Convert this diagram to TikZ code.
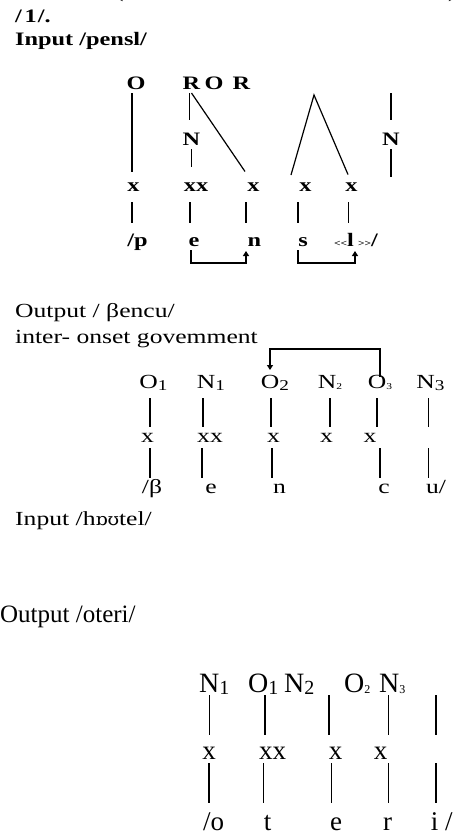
\documentclass[tikz,border=0pt]{standalone}
\usepackage{graphicx}
\usepackage{fontspec}
\setmainfont{Liberation Serif}
\newfontfamily\wideserif[FakeStretch=1.28]{Liberation Serif}
\newfontfamily\plainserif{Liberation Serif}
\newfontfamily\ipaserif[FakeStretch=1.1]{DejaVu Serif}
\usetikzlibrary{arrows.meta}

% widened bold text of the first tree
\newcommand\bw[1]{\scalebox{1.28}[1]{#1}}
% subscripts of the onset/nucleus labels
\newcommand\subL[1]{\raisebox{-2pt}{\fontsize{15}{15}\selectfont #1}}
\newcommand\subS[1]{\raisebox{-1pt}{\fontsize{9}{9}\selectfont #1}}
\newcommand\subM[1]{\raisebox{-2pt}{\fontsize{20}{20}\selectfont #1}}
\newcommand\subT[1]{\raisebox{-1pt}{\fontsize{12}{12}\selectfont #1}}
\newcommand\chev[1]{{\fontsize{9}{9}\selectfont #1}}

\tikzset{
  txt/.style={inner sep=0pt, anchor=base},
  hd/.style={inner sep=0pt, anchor=base west},
  boldfont/.style={font={\fontsize{19}{22}\plainserif\bfseries}},
  regfont/.style={font={\fontsize{20}{23}\wideserif}},
  thrfont/.style={font={\fontsize{27}{30}\plainserif}},
  % first tree: bold, widened
  oneLab/.style={txt, boldfont, text height=12.5pt, text depth=0pt, outer ysep=4pt},
  oneX/.style={txt, boldfont, text height=8.5pt, text depth=0pt, outer ysep=11pt},
  oneSeg/.style={txt, boldfont, text height=8.5pt, text depth=0pt, outer ysep=14.5pt},
  % second tree
  twoLab/.style={txt, regfont, text height=13pt, text depth=0pt, outer ysep=10pt},
  twoX/.style={txt, regfont, text height=9pt, text depth=0pt, outer ysep=6pt},
  % third tree
  thrLab/.style={txt, font={\fontsize{28}{30}\plainserif}, text height=19pt, text depth=0pt, outer ysep=3pt},
  thrX/.style={txt, thrfont, text height=12pt, text depth=0pt, outer ysep=4pt},
  thrSeg/.style={txt, thrfont, text height=12pt, text depth=0pt, outer ysep=15pt},
  branch/.style={line width=1.2pt, line cap=butt},
  govarrow/.style={line width=1.2pt, -{Triangle[length=5pt,width=6pt]}},
}

\begin{document}
\begin{tikzpicture}[x=1pt,y=-1pt]
\useasboundingbox (0,0) rectangle (468,836);

% tail of the preceding line of text
\node[hd, regfont] (parL) at (115,-2.5) {(};
\node[hd, regfont] (parR) at (448,-2.5) {)};

% ---------- /pensl/ ----------
\node[hd, boldfont] (num) at (15,22.7) {\bw{/\kern2pt1\kern1pt/.}};
\node[hd, boldfont] (inA) at (15,45) {\bw{Input /pensl/}};

\node[oneLab] (O)  at (136,89)   {\bw{O}};
\node[oneLab] (Ra) at (191.5,89) {\bw{R}};
\node[oneLab] (Ob) at (214,89)   {\bw{O}};
\node[oneLab] (Rb) at (241.5,89) {\bw{R}};
\coordinate (apex) at (314,95);
\coordinate (legL) at (291,175);
\coordinate (stemTop) at (391,93);
\coordinate (stemBot) at (391,177);
\node[oneLab] (Na) at (191.5,145) {\bw{N}};
\node[oneLab] (Nb) at (391,145)   {\bw{N}};

\node[oneX] (xa) at (133.5,191) {\bw{x}};
\node[oneX] (xb) at (196,191)   {\bw{xx}};
\node[oneX] (xc) at (253.5,191) {\bw{x}};
\node[oneX] (xd) at (305.5,191) {\bw{x}};
\node[oneX] (xe) at (351.5,191) {\bw{x}};

\node[oneSeg] (sp) at (137.5,246) {\bw{/p}};
\node[oneSeg] (se) at (194,246)   {\bw{e}};
\node[oneSeg] (sn) at (254.5,246) {\bw{n}};
\node[oneSeg] (ss) at (303,246)   {\bw{s}};
\node[oneSeg] (sl) at (356,246)   {\bw{\chev{<<}l\,\chev{>>}/}};

\draw[branch] ([xshift=-1.5pt]xa.north |- O.south) -- ([xshift=-1.5pt]xa.north);
\draw[branch] ([xshift=-2pt]Ra.south) -- ([xshift=-2pt,yshift=8.5pt]Na.north);
\draw[branch] (Ra.south) -- ([xshift=-8.5pt]xc.north);
\draw[branch, shorten >=5pt] (Na.south) -- (Na.south |- xb.north);
\draw[branch] (legL) -- (apex) -- ([xshift=-3.5pt,yshift=-3pt]xe.north);
\draw[branch] (stemTop) -- ([yshift=8.5pt]Nb.north);
\draw[branch] (Nb.south) -- (stemBot);

\draw[branch] ([xshift=-1.5pt]xa.south) -- ([xshift=-1.5pt]xa.south |- sp.north);
\draw[branch] ([xshift=-4pt]se.north |- xb.south) -- ([xshift=-4pt]se.north);
\draw[branch] ([xshift=-8.5pt]sn.north |- xc.south) -- ([xshift=-8.5pt]sn.north);
\draw[branch] ([xshift=-5pt]ss.north |- xd.south) -- ([xshift=-5pt]ss.north);
\draw[branch] ([xshift=-3pt]xe.south) -- ([xshift=-3pt]xe.south |- sl.north);

\draw[govarrow] ([xshift=-3pt,yshift=-4pt]se.base) -- ++(0,13) -| ([xshift=-8.5pt,yshift=-5pt]sn.base);
\draw[govarrow] ([xshift=-5pt,yshift=-4pt]ss.base) -- ++(0,13) -| ([xshift=-1pt,yshift=-5pt]sl.base);

% ---------- /βencu/ ----------
\node[hd, regfont] (outA) at (15,317) {Output / βencu/};
\node[hd, regfont] (gov)  at (15,343) {inter- onset govemment};

\node[twoLab] (tO1) at (153.5,388) {O\subL{1}};
\node[twoLab] (tN1) at (211,388)   {N\subL{1}};
\node[twoLab] (tO2) at (275,388)   {O\subL{2}};
\node[twoLab] (tN2) at (330,388)   {N\subS{2}};
\node[twoLab] (tO3) at (380,388)   {O\subS{3}};
\node[twoLab] (tN3) at (430.5,388) {N\subL{3}};

\node[twoX] (tx1) at (147.5,442) {x};
\node[twoX] (tx2) at (210,442)   {xx};
\node[twoX] (tx3) at (273.5,442) {x};
\node[twoX] (tx4) at (326.5,442) {x};
\node[twoX] (tx5) at (370,442)   {x};

\node[twoX] (tb1) at (152,493)   {/β};
\node[twoX] (tb2) at (211,493)   {e};
\node[twoX] (tb3) at (279.5,493) {n};
\node[twoX] (tb4) at (384,493)   {c};
\node[twoX] (tb5) at (436,493)   {u/};

\draw[branch] ([xshift=-3.5pt]tO1.south) -- ([xshift=-3.5pt]tO1.south |- tx1.north);
\draw[branch] ([xshift=-8pt]tN1.south) -- ([xshift=-8pt]tN1.south |- tx2.north);
\draw[branch] ([xshift=-4pt]tO2.south) -- ([xshift=-4pt]tO2.south |- tx3.north);
\draw[branch] (tN2.south) -- (tN2.south |- tx4.north);
\draw[branch] ([xshift=-3pt]tO3.south) -- ([xshift=-3pt]tO3.south |- tx5.north);
\draw[branch] ([xshift=-2pt]tN3.south) -- ([xshift=-2pt]tN3.south |- tx5.north);

\draw[branch] ([xshift=-2pt]tb1.north |- tx1.south) -- ([xshift=-2pt]tb1.north);
\draw[branch] ([xshift=-9pt]tb2.north |- tx2.south) -- ([xshift=-9pt]tb2.north);
\draw[branch] ([xshift=-7.5pt]tb3.north |- tx3.south) -- ([xshift=-7.5pt]tb3.north);
\draw[branch] ([xshift=-4pt]tb4.north |- tx5.south) -- ([xshift=-4pt]tb4.north);
\draw[branch] ([xshift=-7.7pt]tb5.north |- tx5.south) -- ([xshift=-7.7pt]tb5.north);

\draw[govarrow] ([yshift=11pt]tO3.base) -- ++(0,-28) -| ([xshift=-5pt,yshift=18pt]tO2.base);

\node[hd, regfont] (inB) at (15,525.7) {Input /h{\ipaserif\fontsize{17}{20}\selectfont ɒʊ}tel/};

% ---------- /oteri/ ----------
\node[hd, font={\fontsize{25}{28}\plainserif}] (outB) at (0,622.3) {Output /oteri/};

\node[thrLab] (hN1) at (214.3,692) {N\subM{1}};
\node[thrLab] (hO1) at (263.3,692) {O\subM{1}};
\node[thrLab] (hN2) at (299.3,692) {N\subM{2}};
\node[thrLab] (hO2) at (357.3,692) {O\subT{2}};
\node[thrLab] (hN3) at (392.2,692) {N\subT{3}};

\node[thrX] (hx1) at (209,759)   {x};
\node[thrX] (hx2) at (272.5,759) {xx};
\node[thrX] (hx3) at (335.5,759) {x};
\node[thrX] (hx4) at (380.5,759) {x};

\node[thrSeg] (hb1) at (213.5,830) {/o};
\node[thrSeg] (hb2) at (267.5,830) {t};
\node[thrSeg] (hb3) at (336,830)   {e};
\node[thrSeg] (hb4) at (387.5,830) {r};
\node[thrSeg, anchor=base west] (hb5) at (430.7,830) {i /};

\draw[branch] ([xshift=-5pt]hN1.south) -- ([xshift=-5pt,yshift=8pt]hN1.south |- hx1.north);
\draw[branch] ([xshift=1.7pt]hO1.south) -- ([xshift=1.7pt,yshift=8pt]hO1.south |- hx2.north);
\draw[branch] ([xshift=-6.5pt]hx3.north |- hN1.south) -- ([xshift=-6.5pt,yshift=8pt]hx3.north);
\draw[branch] ([xshift=-4pt]hN3.south) -- ([xshift=-4pt,yshift=8pt]hN3.south |- hx4.north);
\draw[branch] ([xshift=5.3pt]hb5.base west |- hN1.south) -- ([xshift=5.3pt,yshift=8pt]hb5.base west |- hx1.north);

\draw[branch] (hx1.south) -- (hx1.south |- hb1.north);
\draw[branch] ([xshift=-4.2pt]hb2.north |- hx2.south) -- ([xshift=-4.2pt]hb2.north);
\draw[branch] ([xshift=-4.3pt]hb3.north |- hx3.south) -- ([xshift=-4.3pt]hb3.north);
\draw[branch] ([xshift=0.8pt]hb4.north |- hx4.south) -- ([xshift=0.8pt]hb4.north);
\draw[branch] ([xshift=5.3pt]hb5.base west |- hx1.south) -- ([xshift=5.3pt]hb5.base west |- hb1.north);
\end{tikzpicture}
\end{document}
